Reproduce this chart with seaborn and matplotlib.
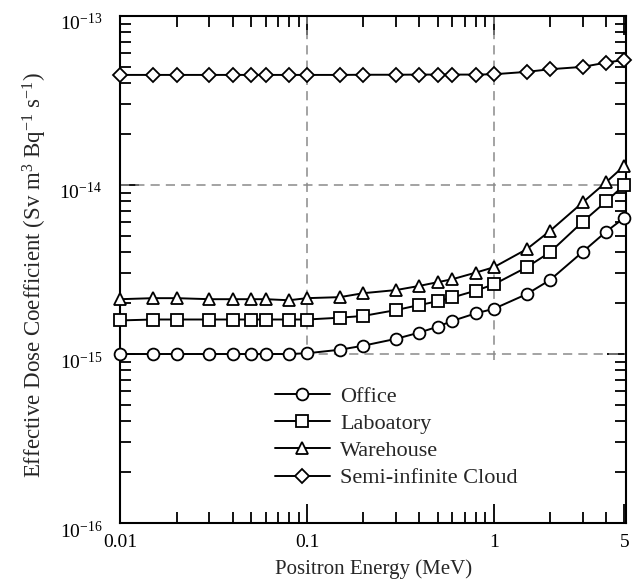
import numpy as np
import pandas as pd
import matplotlib
matplotlib.use("Agg")
import matplotlib.pyplot as plt
import matplotlib.transforms as mtransforms
import seaborn as sns
from matplotlib.ticker import LogLocator, NullFormatter, FixedLocator, FixedFormatter

energy = [0.01, 0.015, 0.02, 0.03, 0.04, 0.05, 0.06, 0.08, 0.1, 0.15, 0.2, 0.3,
          0.4, 0.5, 0.6, 0.8, 1, 1.5, 2, 3, 4, 5]
office = [1.0e-15, 1.0e-15, 1.0e-15, 1.0e-15, 1.0e-15, 1.0e-15, 1.0e-15, 1.0e-15,
          1.01e-15, 1.06e-15, 1.12e-15, 1.23e-15, 1.34e-15, 1.45e-15, 1.57e-15,
          1.74e-15, 1.85e-15, 2.26e-15, 2.74e-15, 4.03e-15, 5.3e-15, 6.4e-15]
laboratory = [1.58e-15, 1.6e-15, 1.6e-15, 1.6e-15, 1.6e-15, 1.6e-15, 1.6e-15, 1.6e-15,
              1.6e-15, 1.64e-15, 1.68e-15, 1.82e-15, 1.95e-15, 2.05e-15, 2.16e-15,
              2.37e-15, 2.58e-15, 3.26e-15, 4.0e-15, 6.07e-15, 8.0e-15, 1.0e-14]
warehouse = [2.11e-15, 2.14e-15, 2.14e-15, 2.11e-15, 2.11e-15, 2.11e-15, 2.11e-15, 2.08e-15,
             2.14e-15, 2.17e-15, 2.29e-15, 2.39e-15, 2.53e-15, 2.66e-15, 2.77e-15,
             3.03e-15, 3.26e-15, 4.17e-15, 5.35e-15, 7.9e-15, 1.04e-14, 1.3e-14]
cloud = [4.48e-14, 4.48e-14, 4.48e-14, 4.48e-14, 4.48e-14, 4.48e-14, 4.48e-14, 4.48e-14,
         4.48e-14, 4.48e-14, 4.49e-14, 4.49e-14, 4.5e-14, 4.5e-14, 4.5e-14,
         4.5e-14, 4.52e-14, 4.67e-14, 4.84e-14, 5.0e-14, 5.3e-14, 5.5e-14]
series_names = ["Office", "Laboatory", "Warehouse", "Semi-infinite Cloud"]
series_values = [office, laboratory, warehouse, cloud]
series_markers = ["o", "s", "^", "D"]
xtick_vals = [0.01, 0.1, 1, 5]
xtick_labels = ["0.01", "0.1", "1", "5"]
ytick_vals = [1e-16, 1e-15, 1e-14, 1e-13]
ytick_labels = [r"10$^{-16}$", r"10$^{-15}$", r"10$^{-14}$", r"10$^{-13}$"]

sns.set_style("ticks")
plt.rcParams["font.family"] = ["Liberation Serif", "DejaVu Serif"]
plt.rcParams["mathtext.fontset"] = "custom"
plt.rcParams["mathtext.rm"] = "Liberation Serif"
plt.rcParams["mathtext.it"] = "Liberation Serif:italic"

fig = plt.figure(figsize=(6.4, 5.81), dpi=100)
ax = fig.add_axes([0.188, 0.0998, 0.790, 0.8727])

for name, vals, mk in zip(series_names, series_values, series_markers):
    df = pd.DataFrame({"energy": energy, "value": vals})
    ms = 7.5 if mk == "D" else 8.5
    sns.lineplot(data=df, x="energy", y="value", ax=ax, color="black", lw=1.4,
                 marker=mk, markersize=ms, markerfacecolor="white",
                 markeredgecolor="black", markeredgewidth=1.3, label=name,
                 zorder=3, clip_on=False)

ax.set_xscale("log")
ax.set_yscale("log")
ax.set_xlim(0.01, 5.1)
ax.set_ylim(1e-16, 1e-13)

ax.xaxis.set_major_locator(FixedLocator(xtick_vals))
ax.xaxis.set_major_formatter(FixedFormatter(xtick_labels))
ax.xaxis.set_minor_locator(LogLocator(base=10, subs=np.arange(2, 10)))
ax.xaxis.set_minor_formatter(NullFormatter())
ax.yaxis.set_major_locator(FixedLocator(ytick_vals))
ax.yaxis.set_major_formatter(FixedFormatter(ytick_labels))
ax.yaxis.set_minor_locator(LogLocator(base=10, subs=np.arange(2, 10), numticks=10))
ax.yaxis.set_minor_formatter(NullFormatter())

ax.tick_params(which="both", direction="in", top=True, right=True, width=1.3,
               colors="black", labelsize=14)
ax.tick_params(which="major", length=14)
ax.tick_params(axis="x", which="major", pad=8)
ax.tick_params(axis="y", which="major", pad=13)
ax.tick_params(which="minor", length=8)
for s in ax.spines.values():
    s.set_linewidth(1.5)
    s.set_color("black")

grid_kw = dict(color="#8a8a8a", lw=1.1, ls=(0, (6, 4)), zorder=1)
ax.vlines([0.1, 1], 0.92e-15, 1e-13, **grid_kw)
ax.hlines([1e-15, 1e-14], 0.01, 5.1, **grid_kw)

ax.set_xlabel("Positron Energy (MeV)", fontsize=15, labelpad=6)
ax.set_ylabel(r"Effective Dose Coefficient (Sv m$^{3}$ Bq$^{-1}$ s$^{-1}$)",
              fontsize=16.5)
ax.yaxis.set_label_coords(-0.142, 0.49)

ax.legend(loc="upper left", bbox_to_anchor=(0.305, 0.27), frameon=False,
          fontsize=16, handlelength=2.5, handletextpad=0.45, labelspacing=0.3,
          borderpad=0, borderaxespad=0)

fig.canvas.draw()
offset = mtransforms.ScaledTranslation(0, -6 / 100, fig.dpi_scale_trans)
for tick in ax.yaxis.get_major_ticks():
    tick.label1.set_transform(tick.label1.get_transform() + offset)

fig.savefig("out.png", dpi=100)
